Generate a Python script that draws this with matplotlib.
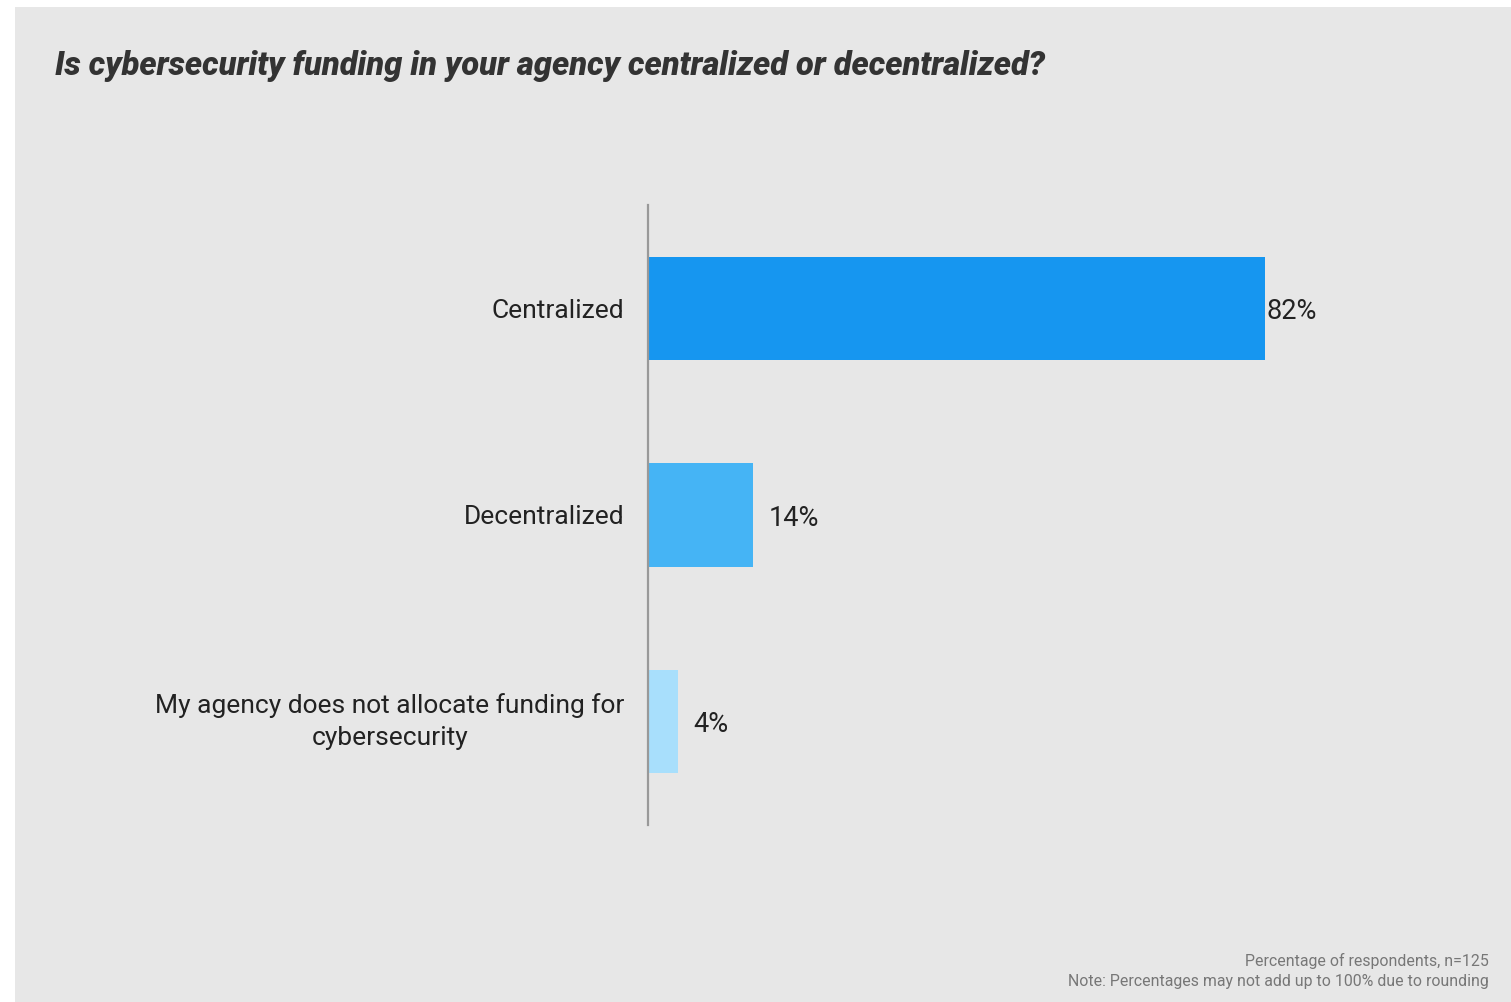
import matplotlib.pyplot as plt
from matplotlib.patches import Rectangle

plt.rcParams['font.family'] = ['Roboto', 'DejaVu Sans']

# survey answers, top to bottom
categories = ['Centralized', 'Decentralized',
              'My agency does not allocate funding for\ncybersecurity']
shares = [82, 14, 4]
bar_colors = ['#1696f0', '#45b4f5', '#a8dffc']
label_gap = [0.3, 2.0, 2.0]  # space between bar end and its value text

W, H = 1511, 1002
fig = plt.figure(figsize=(W / 100, H / 100), dpi=100, facecolor='white')

# gray panel behind everything
fig.patches.append(Rectangle((15 / W, 0), 1 - 15 / W, 1 - 7 / H,
                             transform=fig.transFigure, facecolor='#e7e7e7',
                             edgecolor='none', zorder=-10))

ax = fig.add_axes([648 / W, 177 / H, 752 / W, 620 / H])
ax.set_facecolor('none')

ypos = range(len(categories))
ax.barh(ypos, shares, height=0.5, color=bar_colors, zorder=2)
for y, v, g in zip(ypos, shares, label_gap):
    ax.text(v + g, y, f'{v}%', va='center_baseline', ha='left', fontsize=19.5,
            color='#222222')

ax.set_xlim(0, 100)
ax.set_ylim(2.5, -0.5)
ax.set_xticks([])
ax.set_yticks(list(ypos))
ax.set_yticklabels(categories, fontsize=19, color='#222222',
                   multialignment='center', linespacing=1.45)
# two-line label sits better centred on its bar
for lab in ax.get_yticklabels():
    if '\n' in lab.get_text():
        lab.set_va('center')
ax.tick_params(axis='y', length=0, pad=17)
for side in ['top', 'right', 'bottom']:
    ax.spines[side].set_visible(False)
ax.spines['left'].set_color('#999999')
ax.spines['left'].set_linewidth(1.6)
ax.spines['left'].set_zorder(3)

fig.text(55 / W, 1 - 75 / H,
         'Is cybersecurity funding in your agency centralized or decentralized?',
         fontsize=23.5, fontweight=900, style='italic', color='#333333',
         ha='left', va='baseline')

fig.text(1489 / W, 1 - 966 / H, 'Percentage of respondents, n=125',
         fontsize=11.4, color='#777777', ha='right', va='baseline')
fig.text(1489 / W, 1 - 986 / H,
         'Note: Percentages may not add up to 100% due to rounding',
         fontsize=11.4, color='#777777', ha='right', va='baseline')

fig.savefig('out.png', dpi=100, facecolor=fig.get_facecolor())
